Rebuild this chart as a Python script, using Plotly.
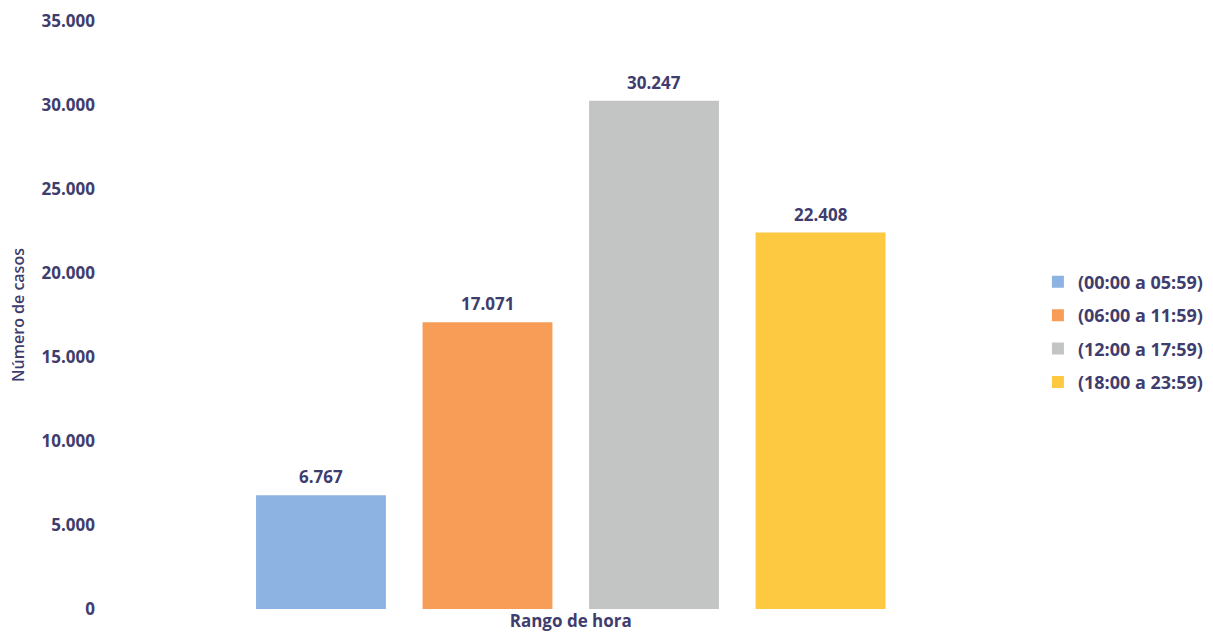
import plotly.graph_objects as go

categories = ["(00:00 a 05:59)", "(06:00 a 11:59)", "(12:00 a 17:59)", "(18:00 a 23:59)"]
values = [6767, 17071, 30247, 22408]
colors = ["#8db3e2", "#f79d58", "#c3c5c4", "#fcc940"]
x_label = "Rango de hora"
y_title = "Número de casos"

TXT = "#3f3d6d"
FONT = "Open Sans"

fig = go.Figure()
for i, (c, v, col) in enumerate(zip(categories, values, colors)):
    fig.add_trace(go.Bar(
        x=[i], y=[v], name=c, width=0.78,
        marker=dict(color=col, line=dict(width=0)),
        legendgroup=c,
        hoverinfo="skip",
    ))
    fig.add_annotation(
        x=i, y=v, text=f"<b>{v:,}</b>".replace(",", "."),
        showarrow=False, yanchor="bottom", yshift=5,
        font=dict(family=FONT, size=17, color=TXT),
    )

fig.update_layout(
    width=1213, height=636,
    margin=dict(l=110, r=182, t=21, b=27, autoexpand=False),
    paper_bgcolor="white", plot_bgcolor="white",
    separators=",.",
    barmode="overlay",
    font=dict(family=FONT, size=17, color=TXT),
    showlegend=True,
    legend=dict(
        x=1.0075, y=0.471, xanchor="left", yanchor="middle",
        font=dict(family=FONT, size=18, color=TXT, weight="bold"),
        tracegroupgap=7, itemwidth=30,
    ),
    xaxis=dict(
        range=[-1.267, 4.264], automargin=False,
        tickmode="array", tickvals=[1.5], ticktext=[f"<b>{x_label}</b>"],
        showgrid=False, zeroline=False, showline=False, ticks="",
        tickfont=dict(family=FONT, size=17, color=TXT),
        ticklabelstandoff=0,
    ),
    yaxis=dict(
        range=[0, 35000], dtick=5000, tickformat=",d", automargin=True,
        showgrid=False, zeroline=False, showline=False, ticks="",
        tickfont=dict(family=FONT, size=17, color=TXT, weight="bold"),
        ticklabelstandoff=14,
        title=dict(text=y_title, font=dict(family=FONT, size=16, color=TXT, weight=600), standoff=12),
    ),
)

fig.write_html("out.html")
